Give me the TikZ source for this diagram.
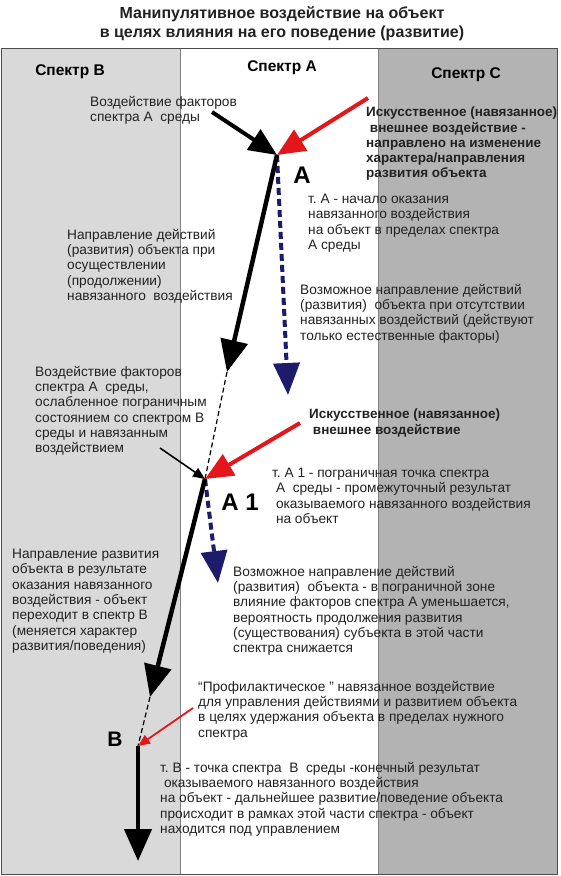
\documentclass[tikz,border=0pt]{standalone}
\usepackage{fontspec}
\setmainfont{Liberation Sans}
\frenchspacing
\usetikzlibrary{arrows.meta, positioning}

\definecolor{specB}{HTML}{D9D9D9}
\definecolor{specC}{HTML}{B3B3B3}
\definecolor{navyarr}{HTML}{1C1C6B}
\definecolor{redarr}{HTML}{E3161B}
\definecolor{txt}{HTML}{222222}

\begin{document}
\begin{tikzpicture}[
  x=1pt, y=-1pt,
  txtbox/.style={anchor=north west, inner sep=0pt, align=left, text=txt,
                 font=\fontsize{13.7}{15.3}\selectfont},
  boldbox/.style={txtbox, font=\fontsize{13.5}{15.2}\selectfont\bfseries},
  head/.style={font=\fontsize{15.5}{17}\selectfont\bfseries, inner sep=0pt},
  ptlabel/.style={font=\fontsize{24}{26}\selectfont\bfseries, inner sep=0pt},
  main/.style={line width=4.5pt, -{Triangle[length=32pt,width=27pt]}},
  push/.style={line width=4pt, -{Triangle[length=28pt,width=24pt]}},
  free/.style={navyarr, line width=4pt, dash pattern=on 7pt off 4pt,
               -{Triangle[length=32pt,width=26pt]}},
  weak/.style={line width=1.2pt, dash pattern=on 5pt off 3pt},
  thinarr/.style={line width=1.6pt, -{Triangle[length=12pt,width=10pt]}}
]
  \useasboundingbox (0,0) rectangle (560,876);
  \fill[white] (0,0) rectangle (560,876);

  % Title
  \node[font=\fontsize{16}{19}\selectfont\bfseries, align=center, anchor=north,
        inner sep=0pt, text=txt] (title) at (282,6)
    {Манипулятивное воздействие на объект\\в целях влияния на его поведение (развитие)};

  % Spectra columns
  \fill[specB] (1,48) rectangle (180,874);
  \fill[specC] (378,48) rectangle (557,874);
  \draw[gray, line width=0.6pt] (180,48) -- (180,874);
  \draw[gray, line width=0.6pt] (378,48) -- (378,874);
  \draw[gray!60!black, line width=1pt] (1,48) rectangle (557,874);

  \node[head] (specb) at (70,72) {Спектр В};
  \node[head] (speca) at (282,68) {Спектр А};
  \node[head] (specc) at (466,75) {Спектр С};

  % Points
  \coordinate (A) at (277,155);
  \coordinate (A1) at (205,479);
  \coordinate (B) at (138,746);

  \coordinate (srcA) at (212,112);
  \coordinate (impA) at (368,98);
  \coordinate (endA) at (227,372);
  \coordinate (natA) at (288,395);
  \coordinate (srcA1) at (160,448);
  \coordinate (impA1) at (300,423);
  \coordinate (endA1) at (150,697);
  \coordinate (natA1) at (218,583);
  \coordinate (impB) at (193,708);
  \coordinate (endB) at (138,861);

  \node[ptlabel] (labA) at (302,175) {A};
  \node[ptlabel] (labA1) at (240,502) {A 1};
  \node[font=\fontsize{21}{23}\selectfont\bfseries, inner sep=0pt] (labB) at (115,739) {B};

  % Texts
  \node[txtbox] (tsrcA) at (90,96) {Воздействие факторов\\спектра А~ среды};
  \node[boldbox] (timpA) at (366,107)
    {Искусственное (навязанное)\\\ внешнее воздействие -\\направлено на изменение\\характера/направления\\развития объекта};
  \node[txtbox] (tptA) at (308,194)
    {т. А - начало оказания\\навязанного воздействия\\на объект в пределах спектра\\А среды};
  \node[txtbox] (tdirA) at (67,229)
    {Направление действий\\(развития) объекта при\\осуществлении\\(продолжении)\\навязанного~ воздействия};
  \node[txtbox] (tnatA) at (300,284)
    {Возможное направление действий\\(развития)~ объекта при отсутствии\\навязанных воздействий (действуют\\только естественные факторы)};
  \node[txtbox] (tsrcA1) at (35,366)
    {Воздействие факторов\\спектра А~ среды,\\ослабленное пограничным\\состоянием со спектром В\\среды и навязанным\\воздействием};
  \node[boldbox] (timpA1) at (309,409)
    {Искусственное (навязанное)\\\ внешнее воздействие};
  \node[txtbox] (tptA1) at (272,468)
    {т. А 1 - пограничная точка спектра\\\ А~ среды - промежуточный результат\\\ оказываемого навязанного воздействия\\\ на объект};
  \node[txtbox] (tdirB) at (12,549)
    {Направление развития\\объекта в результате\\оказания навязанного\\воздействия - объект\\переходит в спектр В\\(меняется характер\\развития/поведения)};
  \node[txtbox] (tnatA1) at (233,566)
    {Возможное направление действий\\(развития)~ объекта - в пограничной зоне\\влияние факторов спектра А уменьшается,\\вероятность продолжения развития\\(существования) субъекта в этой части\\спектра снижается};
  \node[txtbox] (timpB) at (198,681)
    {“Профилактическое ” навязанное воздействие\\для управления действиями и развитием объекта\\в целях удержания объекта в пределах нужного\\спектра};
  \node[txtbox] (tptB) at (160,762)
    {т. В - точка спектра~ В~ среды -конечный результат\\\ оказываемого навязанного воздействия\\на объект - дальнейшее развитие/поведение объекта\\происходит в рамках этой части спектра - объект\\находится под управлением};

  % Arrows
  \draw[free] (A) -- (natA);
  \draw[free] (A1) -- (natA1);
  \draw[weak] (endA) -- (A1);
  \draw[weak] (endA1) -- (B);
  \draw[main] (A) -- (endA);
  \draw[main] (A1) -- (endA1);
  \draw[main] (B) -- (endB);
  \draw[push] (srcA) -- (A);
  \draw[push, redarr] (impA) -- (A);
  \draw[push, redarr] (impA1) -- (A1);
  \draw[thinarr] (srcA1) -- (A1);
  \draw[thinarr, redarr, line width=1.8pt] (impB) -- (B);
\end{tikzpicture}
\end{document}
